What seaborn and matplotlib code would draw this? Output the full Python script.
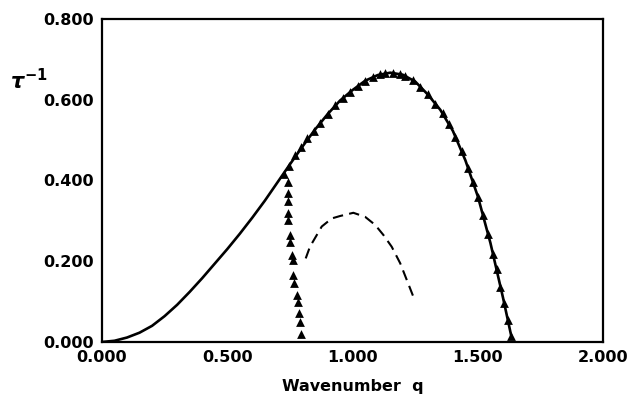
import seaborn as sns
import matplotlib.pyplot as plt
import pandas as pd

# solid curve (upper branch)
curve_q = [0.0, 0.05, 0.1, 0.15, 0.2, 0.25, 0.3, 0.35, 0.4, 0.45, 0.5, 0.55, 0.6, 0.65,
           0.7, 0.75, 0.8, 0.85, 0.9, 0.95, 1.0, 1.05, 1.1, 1.15, 1.2, 1.25, 1.3, 1.35,
           1.4, 1.45, 1.5, 1.55, 1.6, 1.633]
curve_v = [0.0, 0.003, 0.011, 0.023, 0.040, 0.064, 0.092, 0.124, 0.158, 0.194, 0.230,
           0.268, 0.308, 0.350, 0.395, 0.440, 0.484, 0.526, 0.564, 0.598, 0.624, 0.647,
           0.661, 0.667, 0.662, 0.645, 0.613, 0.575, 0.523, 0.450, 0.360, 0.245, 0.110,
           0.015]

# triangles along the upper branch
tri_q = [0.725, 0.745, 0.77, 0.795, 0.82, 0.845, 0.87, 0.90, 0.93, 0.96, 0.99, 1.02,
         1.05, 1.08, 1.11, 1.13, 1.16, 1.19, 1.21, 1.24, 1.27, 1.30, 1.33, 1.36, 1.385,
         1.41, 1.435, 1.46, 1.48, 1.50, 1.52, 1.54, 1.56, 1.575, 1.59, 1.605, 1.62, 1.633]
tri_v = [0.416, 0.435, 0.462, 0.484, 0.505, 0.523, 0.542, 0.564, 0.587, 0.604, 0.620,
         0.635, 0.647, 0.657, 0.663, 0.666, 0.667, 0.664, 0.658, 0.648, 0.632, 0.613,
         0.590, 0.566, 0.540, 0.508, 0.472, 0.432, 0.396, 0.360, 0.314, 0.268, 0.218,
         0.180, 0.137, 0.096, 0.054, 0.015]

# triangles on the steep left branch
left_q = [0.744, 0.744, 0.744, 0.744, 0.744, 0.750, 0.750, 0.757, 0.761, 0.764, 0.768,
          0.777, 0.781, 0.788, 0.790, 0.794]
left_v = [0.397, 0.368, 0.348, 0.319, 0.302, 0.265, 0.248, 0.215, 0.203, 0.166, 0.145,
          0.116, 0.100, 0.071, 0.050, 0.021]

# dashed curve
dash_q = [0.813, 0.830, 0.877, 0.917, 0.950, 1.003, 1.050, 1.090, 1.123, 1.156, 1.190,
          1.216, 1.245]
dash_v = [0.207, 0.236, 0.286, 0.306, 0.312, 0.320, 0.310, 0.290, 0.265, 0.236, 0.195,
          0.154, 0.108]

sns.set_style("white")
plt.rcParams['font.family'] = ['DejaVu Sans']
plt.rcParams['font.weight'] = 'bold'
plt.rcParams['text.color'] = 'black'
plt.rcParams['xtick.color'] = 'black'
plt.rcParams['ytick.color'] = 'black'
plt.rcParams['axes.labelcolor'] = 'black'

fig, ax = plt.subplots(figsize=(6.33, 4.04), dpi=100)
fig.subplots_adjust(left=0.161, right=0.953, top=0.953, bottom=0.1535)

curve = pd.DataFrame({'q': curve_q, 'v': curve_v})
sns.lineplot(data=curve, x='q', y='v', color='black', lw=1.9, sort=False, ax=ax)

dash = pd.DataFrame({'q': dash_q, 'v': dash_v})
sns.lineplot(data=dash, x='q', y='v', color='black', lw=1.5, sort=False, ax=ax,
             linestyle=(0, (5, 3)))

tri = pd.DataFrame({'q': tri_q + left_q, 'v': tri_v + left_v})
sns.scatterplot(data=tri, x='q', y='v', marker='^', color='black', s=40,
                edgecolor='black', linewidth=0, ax=ax, zorder=3)

ax.set_xlim(0, 2.0)
ax.set_ylim(0, 0.8)
ax.set_xticks([0, 0.5, 1.0, 1.5, 2.0])
ax.set_yticks([0, 0.2, 0.4, 0.6, 0.8])
ax.set_xticklabels(['0.000', '0.500', '1.000', '1.500', '2.000'])
ax.set_yticklabels(['0.000', '0.200', '0.400', '0.600', '0.800'])
ax.tick_params(direction='inout', length=8, width=1.4, labelsize=11.5, pad=2)
for lab in ax.get_xticklabels() + ax.get_yticklabels():
    lab.set_fontweight('bold')
for sp in ax.spines.values():
    sp.set_visible(True)
    sp.set_color('black')
    sp.set_linewidth(1.6)

ax.set_xlabel('Wavenumber  q', fontsize=11.5, fontweight='bold', labelpad=10)
ax.set_ylabel('')
fig.text(0.045, 0.8, r'$\tau^{-1}$', fontsize=15, ha='center', va='center')

fig.savefig('out.png', dpi=100)
